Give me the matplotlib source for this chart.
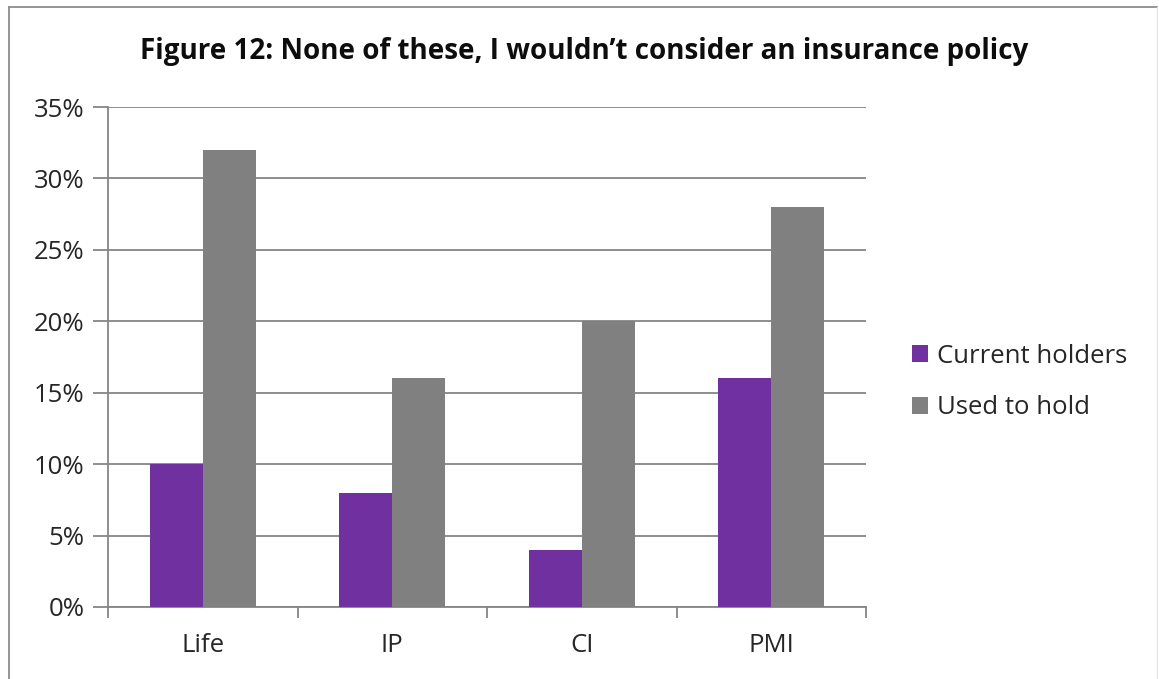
import numpy as np
import matplotlib
matplotlib.use('Agg')
import matplotlib.pyplot as plt
from matplotlib.lines import Line2D
from matplotlib.ticker import PercentFormatter

plt.rcParams['font.family'] = ['Open Sans', 'DejaVu Sans']

categories = ['Life', 'IP', 'CI', 'PMI']
current_holders = [10, 8, 4, 16]
used_to_hold = [32, 16, 20, 28]
series_names = ['Current holders', 'Used to hold']
title = 'Figure 12: None of these, I wouldn\u2019t consider an insurance policy'

purple = '#7030a0'
grey = '#808080'
grid_col = '#868686'

fig = plt.figure(figsize=(11.59, 6.79), dpi=100)
ax = fig.add_axes([108 / 1159, 1 - 607 / 679, (866 - 108) / 1159, (607 - 107) / 679])

x = np.arange(len(categories))
w = 0.28
ax.bar(x - w / 2, current_holders, w, color=purple, label=series_names[0], zorder=3)
ax.bar(x + w / 2, used_to_hold, w, color=grey, label=series_names[1], zorder=3)

ax.set_xlim(-0.5, len(categories) - 0.5)
ax.set_ylim(0, 35)
ax.set_yticks(np.arange(0, 36, 5))
ax.yaxis.set_major_formatter(PercentFormatter(decimals=0))
ax.grid(axis='y', color=grid_col, linewidth=1.3, zorder=0)

# category labels centred, tick marks on the category boundaries
ax.set_xticks(x)
ax.set_xticklabels(categories)
ax.set_xticks(np.arange(-0.5, len(categories), 1), minor=True)
ax.tick_params(axis='x', which='major', length=0, pad=19, labelsize=18.5, labelcolor='#262626')
ax.tick_params(axis='x', which='minor', length=8, width=1.3, color=grid_col, direction='out')
ax.tick_params(axis='y', length=11, width=1.3, color=grid_col, pad=6, labelsize=18.5,
               labelcolor='#262626')

for side in ['top', 'right']:
    ax.spines[side].set_visible(False)
for side in ['left', 'bottom']:
    ax.spines[side].set_color(grid_col)
    ax.spines[side].set_linewidth(1.3)

fig.text(584 / 1159, 1 - 52 / 679, title, ha='center', va='center',
         fontsize=20, fontweight='bold', color='#0d0d0d')

leg = ax.legend(loc='center left', bbox_to_anchor=(1.061, 0.45), frameon=False,
                fontsize=18.5, handlelength=0.6, handleheight=0.6, handletextpad=0.35,
                labelspacing=1.05, borderpad=0, borderaxespad=0)
for t in leg.get_texts():
    t.set_color('#262626')

# outer chart frame
fig.add_artist(Line2D([8.5 / 1159, 8.5 / 1159], [0, 1 - 7 / 679], transform=fig.transFigure,
                      color='#8c8c8c', linewidth=1.3))
fig.add_artist(Line2D([8.5 / 1159, 1157 / 1159], [1 - 7 / 679, 1 - 7 / 679],
                      transform=fig.transFigure, color='#8c8c8c', linewidth=1.3))
fig.add_artist(Line2D([1157 / 1159, 1157 / 1159], [0, 1 - 7 / 679], transform=fig.transFigure,
                      color='#e6e6e6', linewidth=1))

fig.savefig('out.png', dpi=100, facecolor='white')
